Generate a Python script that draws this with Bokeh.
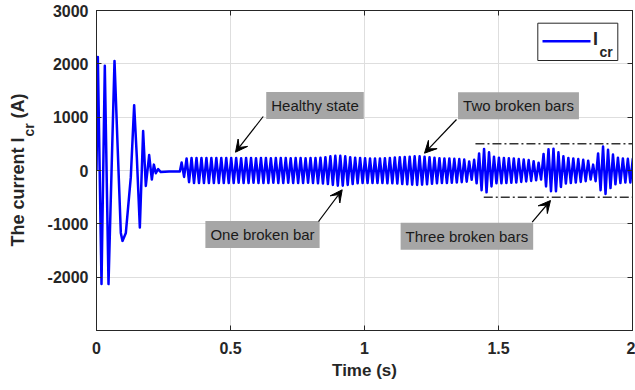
import numpy as np
from math import pi
from bokeh.plotting import figure
from bokeh.layouts import row
from bokeh.core.properties import value
from bokeh.models import (Range1d, FixedTicker, LinearAxis, Label, Arrow,
                          VeeHead, BoxAnnotation, CustomJSTickFormatter)
from bokeh.embed import file_html
from bokeh.resources import INLINE

# ---------------- data ----------------
# start-up transient: successive turning points of I_cr  (time in s, current in A)
transient_t = [0.000, 0.005, 0.0187, 0.031, 0.0448, 0.0672, 0.078, 0.0908, 0.097, 0.1095,
               0.128, 0.1405, 0.1505, 0.1617, 0.174, 0.184, 0.1965, 0.2065, 0.214, 0.2214,
               0.230, 0.240, 0.271, 0.311]
transient_v = [0, 2130, -2130, 1965, -2130, 2055, 560, -1170, -1320, -1170,
               -125, 1225, 250, -1070, 740, -290, 290, -170, 110, -50,
               25, -30, -20, -20]

# steady oscillation after 0.313 s: one positive and one negative peak per cycle
cycle_start = 0.313
cycle_period = 0.0185
upper_peaks = [150, 225,
               235, 235, 235, 235, 235, 235, 235, 235,
               235, 235, 230, 235, 235, 230, 235, 235, 230, 235, 235, 235, 230, 235, 235, 230, 235, 235, 240,
               250, 265, 275, 275, 265, 250,
               240, 235, 230, 225, 225, 225, 230, 235,
               245, 250, 255, 260, 265, 265, 260, 250, 240,
               230, 225, 225, 220, 215, 205,
               170, 200, 320, 405, 340, 260,
               240, 235, 230, 225, 215, 205, 195,
               175, 145, 310, 400, 410, 340, 265,
               235, 225, 215, 200, 185,
               110, 320, 450, 390, 300, 240, 225, 220, 220]
lower_peaks = [-120, -220,
               -235, -235, -235, -235, -235, -235, -235, -235,
               -235, -230, -235, -235, -230, -235, -235, -235, -230, -235, -235, -230, -235, -235, -235, -230, -235, -240, -245,
               -255, -270, -285, -285, -270, -255,
               -240, -235, -235, -235, -235, -235, -240, -240,
               -245, -255, -260, -265, -270, -265, -260, -250, -240,
               -235, -235, -230, -225, -220, -210,
               -175, -240, -370, -410, -300, -240,
               -240, -235, -230, -225, -215, -205, -195,
               -185, -170, -300, -390, -390, -310, -245,
               -235, -225, -215, -200, -170,
               -200, -370, -440, -330, -260, -235, -225, -225, -225]

# dash-dot band marking the three-broken-bars envelope
band_levels = [500, -500]
band_starts = [1.414, 1.445]
band_end = 2.0

x_ticks = [0, 0.5, 1, 1.5, 2]
x_tick_labels = ["0", "0.5", "1", "1.5", "2"]
y_ticks = [-2000, -1000, 0, 1000, 2000, 3000]
y_tick_labels = ["-2000", "-1000", "0", "1000", "2000", "3000"]

annotations = ["Healthy state", "One broken bar", "Two broken bars", "Three broken bars"]

# ---------------- build the trace ----------------
n = len(upper_peaks)
k = np.arange(n)
steady_t = np.empty(2 * n)
steady_v = np.empty(2 * n)
steady_t[0::2] = cycle_start + cycle_period * (k + 0.25)
steady_t[1::2] = cycle_start + cycle_period * (k + 0.75)
steady_v[0::2] = upper_peaks
steady_v[1::2] = lower_peaks
t = np.concatenate([transient_t, steady_t])
v = np.concatenate([transient_v, steady_v])

# ---------------- layout helpers (pixel -> data, for annotations only) ----------------
def X(px):
    return (px - 96) / 268.0

def Y(py):
    return (170 - py) * 18.75

FONT = "Liberation Sans"
DARK = "#262626"
LEFT_W = 40

p = figure(width=635 - LEFT_W, height=390, x_range=Range1d(0, 2), y_range=Range1d(-3000, 3000),
           output_backend="svg", toolbar_location=None,
           min_border_left=96 - LEFT_W, min_border_right=3, min_border_top=10, min_border_bottom=60)
p.background_fill_color = "white"
p.border_fill_color = "white"
p.outline_line_color = DARK
p.outline_line_width = 1

xax = p.below[0]
yax = p.left[0]
xax.ticker = FixedTicker(ticks=x_ticks)
yax.ticker = FixedTicker(ticks=y_ticks)
xax.major_label_overrides = dict(zip(x_ticks, x_tick_labels))
yax.major_label_overrides = dict(zip(y_ticks, y_tick_labels))
for ax in (xax, yax):
    ax.major_label_text_font = FONT
    ax.major_label_text_font_style = "bold"
    ax.major_label_text_font_size = "16px"
    ax.major_label_text_color = DARK
    ax.major_tick_in = 5
    ax.major_tick_out = 0
    ax.minor_tick_line_color = None
    ax.axis_line_color = DARK
    ax.major_tick_line_color = DARK
xax.major_label_standoff = 11
yax.major_label_standoff = 8
xax.axis_label = "Time (s)"
xax.axis_label_text_font = FONT
xax.axis_label_text_font_style = "bold"
xax.axis_label_text_font_size = "17px"
xax.axis_label_text_color = DARK
xax.axis_label_standoff = 4

p.xgrid.ticker = FixedTicker(ticks=x_ticks)
p.ygrid.ticker = FixedTicker(ticks=y_ticks)
for g in (p.xgrid, p.ygrid):
    g.grid_line_color = "#dedede"
    g.grid_line_width = 1

blank = CustomJSTickFormatter(code="return ''")
for loc, ticks in (("right", y_ticks), ("above", x_ticks)):
    ax = LinearAxis(ticker=FixedTicker(ticks=ticks), formatter=blank,
                    major_label_text_font_size="0px", major_label_standoff=0,
                    major_tick_in=5, major_tick_out=0, minor_tick_line_color=None,
                    axis_line_color=DARK, major_tick_line_color=DARK)
    p.add_layout(ax, loc)

# the signal
p.line(t, v, line_color="#0000ff", line_width=2.5, line_join="round")

# dash-dot envelope lines
for lvl, st in zip(band_levels, band_starts):
    p.line([st, band_end], [lvl, lvl], line_color="#333333", line_width=1.5,
           line_dash="9 3 2 3")

# annotation boxes
box_pos = [(314.5, 105), (262, 234), (518, 105.3), (466.4, 235.8)]
for txt, (bx, by) in zip(annotations, box_pos):
    p.add_layout(Label(x=X(bx), y=Y(by), text=txt, text_align="center", text_baseline="middle",
                       text_font=FONT, text_font_size="15px", text_color="#1a1a1a",
                       background_fill_color="#a6a6a6", background_fill_alpha=1, padding=5))

arrows = [((262.7, 116), (235, 151.7)),
          ((318, 221), (341.7, 189.3)),
          ((456, 119), (424, 152.7)),
          ((531.7, 221.7), (550, 200))]
for (sx0, sy0), (sx1, sy1) in arrows:
    p.add_layout(Arrow(x_start=X(sx0), y_start=Y(sy0), x_end=X(sx1), y_end=Y(sy1),
                       line_color="black", line_width=1.2,
                       end=VeeHead(size=12, fill_color="black", line_color="black")))

# legend
p.add_layout(BoxAnnotation(left=X(537.3), right=X(617.3), top=Y(22.7), bottom=Y(60),
                           fill_color="white", fill_alpha=1, line_color=DARK, line_width=1,
                           line_alpha=1))
p.line([X(542), X(590)], [Y(40.7), Y(40.7)], line_color="#0000ff", line_width=2.5, level="overlay")
p.add_layout(Label(x=X(592.5), y=Y(38), text="I", text_align="left", text_baseline="middle",
                   text_font=FONT, text_font_style="bold", text_font_size="18px", text_color=DARK))
p.add_layout(Label(x=X(599), y=Y(51), text="cr", text_align="left", text_baseline="middle",
                   text_font=FONT, text_font_style="bold", text_font_size="14px", text_color=DARK))

# y-axis title with subscript, drawn in a narrow strip to the left.
# The strip's frame is aligned with the main frame (pixel rows 10..330), so the
# y range below maps its values straight to pixel rows.
lab = figure(width=LEFT_W, height=390, x_range=Range1d(0, LEFT_W), y_range=Range1d(330, 10),
             output_backend="svg", toolbar_location=None, x_axis_type=None, y_axis_type=None,
             min_border=0, min_border_left=0, min_border_right=0, min_border_top=10,
             min_border_bottom=60)
lab.outline_line_color = None
lab.background_fill_color = "white"
lab.border_fill_color = "white"
lab.grid.visible = False
ytitle = dict(angle=pi / 2, text_align="left", text_baseline="middle", text_font=value(FONT),
              text_font_style="bold", text_color=DARK)
lab.text(x=[17], y=[246], text=["The current I"], text_font_size="18px", **ytitle)
lab.text(x=[28], y=[136], text=["cr"], text_font_size="14px", **ytitle)
lab.text(x=[17], y=[118], text=["(A)"], text_font_size="18px", **ytitle)

layout = row(lab, p, spacing=0)
open("out.html", "w").write(file_html(layout, INLINE))
